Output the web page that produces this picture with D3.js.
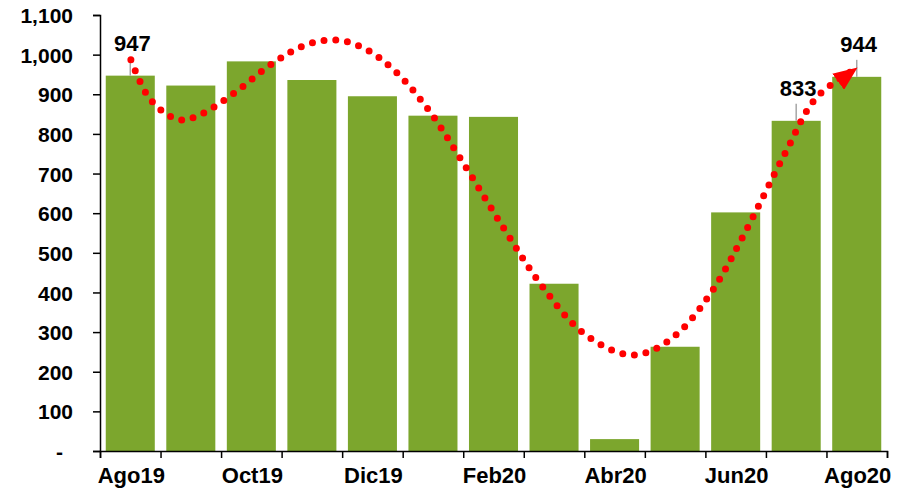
<!DOCTYPE html>
<html>
<head>
<meta charset="utf-8">
<script src="https://cdn.jsdelivr.net/npm/d3@7"></script>
<style>
  body { margin: 0; background: #fff; }
  text { font-family: "Liberation Sans", Arial, sans-serif; font-weight: bold; fill: #000; }
</style>
</head>
<body>
<svg id="chart" width="903" height="490"></svg>
<script>
// months on the x axis and the bar values
var months = ['Ago19','Sep19','Oct19','Nov19','Dic19','Ene20','Feb20','Mar20','Abr20','May20','Jun20','Jul20','Ago20'];
var values = [947, 922, 983, 936, 895, 846, 843, 422, 30, 263, 602, 833, 944];
var yTicks = [0, 100, 200, 300, 400, 500, 600, 700, 800, 900, 1000, 1100];
var shownMonths = ['Ago19','Oct19','Dic19','Feb20','Abr20','Jun20','Ago20'];
var labelled = ['Ago19','Jul20','Ago20'];

// red dotted trend arrow: [position in month units, value]
var trendPos = [0.51, 0.78, 1.07, 1.35, 1.65, 2.2, 2.86, 3.39, 3.9, 4.39, 4.89, 5.43, 6.01, 6.69, 7.27, 7.95, 8.67, 9.09, 9.6, 10.13, 10.64, 11.32, 11.83, 12.5];
var trendVal = [987, 898, 853, 835, 848, 901, 979, 1024, 1037, 1014, 956, 860, 724, 557, 423, 302, 244, 252, 305, 408, 547, 752, 891, 966];

var svg = d3.select('#chart');
var plotLeft = 100, plotRight = 887, plotTop = 15, plotBottom = 451;

var x = d3.scaleBand()
  .domain(months)
  .range([plotLeft, plotRight])
  .paddingInner(0.19)
  .paddingOuter(0.095);

var xi = d3.scaleLinear().domain([0, months.length]).range([plotLeft, plotRight]);

var y = d3.scaleLinear().domain([0, 1100]).range([plotBottom, plotTop]);

// bars
svg.append('g')
  .selectAll('rect')
  .data(values)
  .enter()
  .append('rect')
  .attr('x', (d, i) => x(months[i]))
  .attr('y', d => y(d))
  .attr('width', x.bandwidth())
  .attr('height', d => y(0) - y(d))
  .attr('fill', '#7CA62D');

// y axis
var yAxis = svg.append('g')
  .attr('transform', `translate(${plotLeft},0)`)
  .call(d3.axisLeft(y)
    .tickValues(yTicks)
    .tickSize(7)
    .tickFormat(d => d == 0 ? '-' : d3.format(',')(d)));
yAxis.select('.domain').attr('stroke', '#000').attr('stroke-width', 1.5);
yAxis.selectAll('.tick line').attr('stroke', '#000').attr('stroke-width', 1.5);
yAxis.selectAll('.tick text')
  .style('font-size', '21px')
  .attr('dy', '0.36em')
  .attr('x', d => d == 0 ? -37 : -27);

// x axis: ticks on the band edges, labels every other month
var xAxis = svg.append('g')
  .attr('transform', `translate(0,${plotBottom})`)
  .call(d3.axisBottom(xi)
    .tickValues(d3.range(months.length + 1))
    .tickSize(7)
    .tickFormat(''));
xAxis.select('.domain').attr('stroke', '#000').attr('stroke-width', 1.5);
xAxis.selectAll('.tick line').attr('stroke', '#000').attr('stroke-width', 1.5);

svg.append('g')
  .selectAll('text')
  .data(shownMonths)
  .enter()
  .append('text')
  .attr('x', d => x(d) + x.bandwidth() / 2 + 1)
  .attr('y', plotBottom + 32)
  .attr('text-anchor', 'middle')
  .style('font-size', '22px')
  .text(d => d);

// data labels with grey leader lines
var lab = svg.append('g');
labelled.forEach(function(m) {
  var v = values[months.indexOf(m)];
  var cx = x(m) + x.bandwidth() / 2;
  lab.append('line')
    .attr('x1', cx).attr('x2', cx)
    .attr('y1', y(v)).attr('y2', y(v) - 17)
    .attr('stroke', '#a6a6a6')
    .attr('stroke-width', 1.5);
  lab.append('text')
    .attr('x', cx + 2)
    .attr('y', y(v) - 25)
    .attr('text-anchor', 'middle')
    .style('font-size', '22px')
    .text(d3.format(',')(v));
});

// arrow head
svg.append('defs').append('marker')
  .attr('id', 'arrow')
  .attr('markerUnits', 'userSpaceOnUse')
  .attr('viewBox', '0 0 24 20')
  .attr('refX', 23)
  .attr('refY', 10)
  .attr('markerWidth', 24)
  .attr('markerHeight', 20)
  .attr('orient', 'auto')
  .append('path')
  .attr('d', 'M0,0 L24,10 L0,20 Z')
  .attr('fill', '#FF0000');

var trendLine = d3.line()
  .x((d, i) => xi(trendPos[i]))
  .y(d => y(d))
  .curve(d3.curveCatmullRom);

svg.append('path')
  .datum(trendVal)
  .attr('d', trendLine)
  .attr('fill', 'none')
  .attr('stroke', '#FF0000')
  .attr('stroke-width', 7)
  .attr('stroke-linecap', 'round')
  .attr('stroke-dasharray', '0 11.8');

// invisible carrier for the arrow head on the last segment
var n = trendVal.length;
svg.append('path')
  .attr('d', d3.line()([[xi(trendPos[n - 2]), y(trendVal[n - 2])], [xi(trendPos[n - 1]), y(trendVal[n - 1])]]))
  .attr('fill', 'none')
  .attr('stroke', 'none')
  .attr('marker-end', 'url(#arrow)');
</script>
</body>
</html>
